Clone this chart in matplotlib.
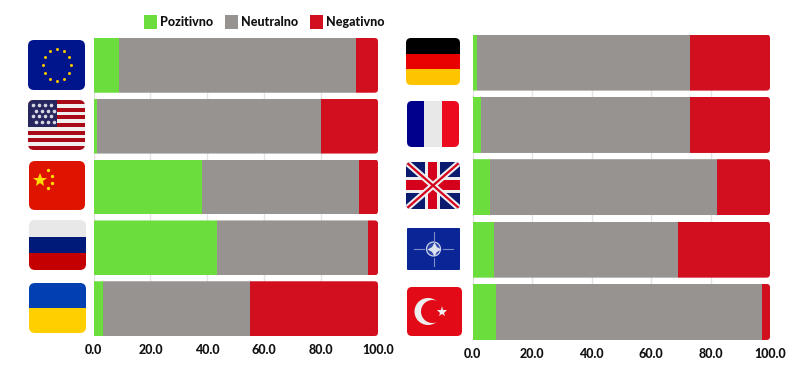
import matplotlib
matplotlib.use("Agg")
import matplotlib.pyplot as plt
from matplotlib.patches import FancyBboxPatch, Rectangle, Circle

W, H = 800, 366
plt.rcParams["font.family"] = ["Lato", "DejaVu Sans"]
plt.rcParams["font.weight"] = "black"

GREEN = "#6BDD3D"
GREY = "#979391"
RED = "#D20F1F"

legend_labels = ["Pozitivno", "Neutralno", "Negativno"]
ticks = [0, 20, 40, 60, 80, 100]

left_names = ["EU", "USA", "China", "Russia", "Ukraine"]
left_pos = [8.8, 1.4, 38.2, 43.3, 3.2]
left_neu = [83.5, 78.6, 55.1, 53.1, 51.7]
left_neg = [7.7, 20.0, 6.7, 3.6, 45.1]

right_names = ["Germany", "France", "UK", "NATO", "Turkey"]
right_pos = [1.6, 2.8, 5.8, 7.2, 7.7]
right_neu = [71.4, 70.2, 76.5, 61.7, 89.6]
right_neg = [27.0, 27.0, 17.7, 31.1, 2.7]


def px_axes(fig, x0, y0, x1, y1):
    # axes from pixel box, y measured from the top
    return fig.add_axes([x0 / W, 1 - y1 / H, (x1 - x0) / W, (y1 - y0) / H])


def draw_bars(ax, names, pos, neu, neg):
    rows = list(range(len(names)))
    height = 0.9
    lefts = [0] * len(rows)
    bars = []
    for vals, color in [(pos, GREEN), (neu, GREY), (neg, RED)]:
        bars.append(ax.barh(rows, vals, left=lefts, height=height, color=color, zorder=3))
        lefts = [a + b for a, b in zip(lefts, vals)]
    ax.set_xlim(0, 100)
    ax.set_ylim(len(rows) - 1 + height / 2, -height / 2)
    ax.set_yticks([])
    ax.set_xticks(ticks)
    ax.set_xticklabels([f"{t:.1f}" for t in ticks], fontsize=9, color="#111111", fontweight="black")
    ax.tick_params(axis="x", length=0, pad=6)
    ax.grid(axis="x", color="#e4e4e4", lw=1, zorder=0)
    ax.set_axisbelow(True)
    for s in ax.spines.values():
        s.set_visible(False)
    # rounded right end of every row
    bbox = ax.get_window_extent()
    xs = bbox.width / 100
    ys = bbox.height / (len(rows) - 1 + height)
    for r in rows:
        clip = FancyBboxPatch((-5, r - height / 2), 105, height,
                              boxstyle="round,pad=0,rounding_size=1.2",
                              mutation_aspect=xs / ys, transform=ax.transData,
                              fc="none", ec="none")
        ax.add_patch(clip)
        for group in bars:
            group[r].set_clip_path(clip)


def flag_axes(fig, x0, y0, x1, y1):
    ax = px_axes(fig, x0, y0, x1, y1)
    ax.set_xlim(0, x1 - x0)
    ax.set_ylim(y1 - y0, 0)
    ax.axis("off")
    return ax, x1 - x0, y1 - y0


def finish_flag(ax, w, h, r=5):
    clip = FancyBboxPatch((0, 0), w, h, boxstyle=f"round,pad=0,rounding_size={r}",
                          fc="none", ec="none", transform=ax.transData)
    ax.add_patch(clip)
    for art in ax.patches + ax.lines:
        if art is not clip:
            art.set_clip_path(clip)


def stripes_h(ax, w, h, colors):
    n = len(colors)
    for i, c in enumerate(colors):
        ax.add_patch(Rectangle((0, h * i / n), w, h / n, fc=c, ec="none"))


def stripes_v(ax, w, h, colors):
    n = len(colors)
    for i, c in enumerate(colors):
        ax.add_patch(Rectangle((w * i / n, 0), w / n, h, fc=c, ec="none"))


def flag_eu(fig):
    ax, w, h = flag_axes(fig, 28, 40, 85, 90)
    ax.add_patch(Rectangle((0, 0), w, h, fc="#00148C", ec="none"))
    for dx, dy in [(0, -16), (-7, -14), (7, -14), (12, -8), (-12, -8), (14, 0),
                   (-14, 0), (12, 8), (-12, 8), (7, 14), (-7, 14), (0, 16)]:
        ax.plot(w / 2 + dx, h / 2 + dy, "o", ms=2.2, color="#F5C400", mew=0)
    finish_flag(ax, w, h, 6)


def flag_us(fig):
    ax, w, h = flag_axes(fig, 28, 100, 85, 150)
    colors = ["#A80A18" if i % 2 == 0 else "#F0F0F0" for i in range(13)]
    stripes_h(ax, w, h, colors)
    ax.add_patch(Rectangle((0, 0), 29, 27, fc="#26255E", ec="none"))
    for row in range(4):
        for col in range(4):
            x = 5.3 + col * 6 + (2.5 if row % 2 else 0)
            ax.plot(x, 5 + row * 5.5, "o", ms=2.6, color="#D8D8E4", mew=0)
    finish_flag(ax, w, h, 6)


def flag_china(fig):
    ax, w, h = flag_axes(fig, 29, 161, 85, 210)
    ax.add_patch(Rectangle((0, 0), w, h, fc="#DE1400", ec="none"))
    ax.plot(11, 19, "*", ms=10, color="#FFDD00", mew=0)
    for x, y in [(19, 9), (23, 15), (23, 22), (19, 27)]:
        ax.plot(x, y, "o", ms=2.4, color="#FFDD00", mew=0)
    finish_flag(ax, w, h, 6)


def flag_russia(fig):
    ax, w, h = flag_axes(fig, 29, 220, 86, 270)
    stripes_h(ax, w, h, ["#E8E8E8", "#001A7A", "#C40000"])
    finish_flag(ax, w, h, 6)


def flag_ukraine(fig):
    ax, w, h = flag_axes(fig, 29, 283, 86, 333)
    stripes_h(ax, w, h, ["#0040B0", "#FFCF00"])
    finish_flag(ax, w, h, 6)


def flag_germany(fig):
    ax, w, h = flag_axes(fig, 406, 38, 460, 85)
    stripes_h(ax, w, h, ["#000000", "#E90000", "#FFC400"])
    finish_flag(ax, w, h, 5)


def flag_france(fig):
    ax, w, h = flag_axes(fig, 407, 101, 459, 147)
    stripes_v(ax, w, h, ["#00008C", "#E8E8E8", "#EB0A1E"])
    finish_flag(ax, w, h, 5)


def flag_uk(fig):
    ax, w, h = flag_axes(fig, 406, 162, 460, 209)
    ax.add_patch(Rectangle((0, 0), w, h, fc="#0A1A6E", ec="none"))
    ax.plot([0, w], [0, h], color="#EEEEEE", lw=4.5, solid_capstyle="butt")
    ax.plot([0, w], [h, 0], color="#EEEEEE", lw=4.5, solid_capstyle="butt")
    ax.plot([0, w], [0, h], color="#D4001C", lw=1.6, solid_capstyle="butt")
    ax.plot([0, w], [h, 0], color="#D4001C", lw=1.6, solid_capstyle="butt")
    ax.add_patch(Rectangle((w / 2 - 7.5, 0), 15, h, fc="#EEEEEE", ec="none"))
    ax.add_patch(Rectangle((0, h / 2 - 8), w, 16, fc="#EEEEEE", ec="none"))
    ax.add_patch(Rectangle((w / 2 - 4.5, 0), 9, h, fc="#D4001C", ec="none"))
    ax.add_patch(Rectangle((0, h / 2 - 5), w, 10, fc="#D4001C", ec="none"))
    finish_flag(ax, w, h, 5)


def flag_nato(fig):
    ax, w, h = flag_axes(fig, 407, 228, 460, 270)
    ax.add_patch(Rectangle((0, 0), w, h, fc="#0A2596", ec="none"))
    cx, cy = w / 2, h / 2
    for x0, x1, y0, y1 in [(7, 17, cy, cy), (w - 17, w - 7, cy, cy),
                           (cx, cx, 4, 12), (cx, cx, h - 12, h - 4)]:
        ax.plot([x0, x1], [y0, y1], color="#7F8CC8", lw=0.8)
    ax.add_patch(Circle((cx, cy), 7, fc="#2C46A6", ec="#C8D0E8", lw=0.9))
    ax.plot(cx, cy, marker=(4, 1, 0), ms=10, color="#DDE2F2", mew=0)
    finish_flag(ax, w, h, 1)


def flag_turkey(fig):
    ax, w, h = flag_axes(fig, 407, 287, 462, 336)
    ax.add_patch(Rectangle((0, 0), w, h, fc="#E30A17", ec="none"))
    ax.add_patch(Circle((21, 24.5), 13.5, fc="#EEEEEE", ec="none"))
    ax.add_patch(Circle((25.5, 24.5), 11.5, fc="#E30A17", ec="none"))
    ax.plot(35, 24.5, "*", ms=8, color="#EEEEEE", mew=0)
    finish_flag(ax, w, h, 5)


fig = plt.figure(figsize=(W / 100, H / 100), dpi=100)

ax_left = px_axes(fig, 93.5, 38, 378, 336)
draw_bars(ax_left, left_names, left_pos, left_neu, left_neg)

ax_right = px_axes(fig, 472.7, 34.5, 770, 340)
draw_bars(ax_right, right_names, right_pos, right_neu, right_neg)

for draw in [flag_eu, flag_us, flag_china, flag_russia, flag_ukraine,
             flag_germany, flag_france, flag_uk, flag_nato, flag_turkey]:
    draw(fig)

handles = [Rectangle((0, 0), 1, 1, fc=c, ec="none") for c in [GREEN, GREY, RED]]
fig.legend(handles, legend_labels, loc="center left", bbox_to_anchor=(144 / W, 1 - 22 / H),
           ncol=3, frameon=False, fontsize=9, handlelength=1.04, handleheight=1.28,
           handletextpad=0.24, columnspacing=0.96, borderpad=0, borderaxespad=0,
           labelcolor="#111111")

fig.savefig("out.png", dpi=100)
